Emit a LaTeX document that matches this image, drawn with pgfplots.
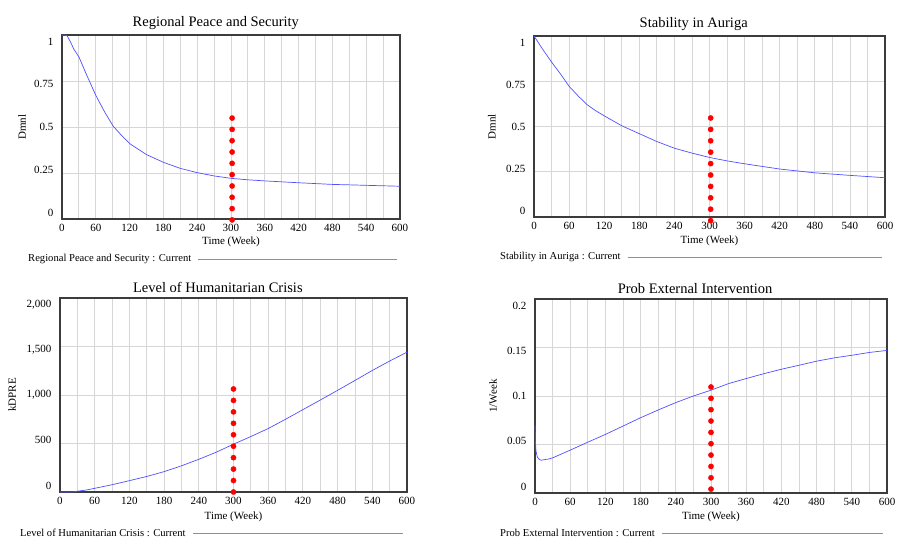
\documentclass[border=0pt]{standalone}
\usepackage{fontspec}
\setmainfont{Liberation Serif}
\usepackage{pgfplots}
\pgfplotsset{compat=1.18}

\definecolor{vline}{RGB}{80,80,255}
\definecolor{vleg}{RGB}{130,130,255}
\definecolor{vgrid}{RGB}{214,214,214}
\definecolor{vframe}{RGB}{60,60,60}

\newcommand{\legfont}{\fontsize{10.6}{12}\selectfont}

\tikzset{
  legtext/.style={anchor=west, inner sep=0pt, font=\legfont},
  legline/.style={vleg, line width=0.8pt},
}

\pgfplotsset{
  vensim/.style={
    scale only axis,
    xmin=0, xmax=600,
    xtick={0,60,...,600},
    minor x tick num=1,
    grid=both,
    major grid style={vgrid, line width=0.8pt},
    minor grid style={vgrid, line width=0.8pt},
    major tick length=0pt, minor tick length=0pt,
    axis line style={vframe, line width=1.3pt},
    tick label style={font=\fontsize{11}{13}\selectfont},
    xticklabel style={yshift=-2pt},
    yticklabel style={xshift=-5pt, yshift={(2-\ticknum)*3.3pt}},
    /pgf/number format/assume math mode=true,
    /pgf/number format/fixed,
    /pgf/number format/precision=2,
    /pgf/number format/1000 sep={,},
    scaled ticks=false,
    title style={font=\fontsize{14.5}{17}\selectfont, at={(0.455,1)}, anchor=south, yshift=-4pt},
    xlabel={Time (Week)},
    label style={font=\fontsize{11}{13}\selectfont},
    ylabel style={rotate=0, anchor=center},
    clip=false,
  },
  curve/.style={vline, line width=0.7pt},
  dots/.style={only marks, mark=*, mark size=2.6pt, red},
}

\begin{document}
\begin{tikzpicture}
\useasboundingbox (0,0) rectangle (897pt,541pt);

% top left
\begin{axis}[vensim, at={(62pt,322pt)}, anchor=south west,
  width=338pt, height=184pt,
  ymin=0, ymax=1, ytick={0,0.25,0.5,0.75,1},
  title={Regional Peace and Security},
  ylabel={Dmnl},
  xlabel style={at={(axis description cs:0.5,-0.125)}, anchor=center},
  ylabel style={at={(axis description cs:-0.118,0.5)}}]
\addplot[curve] coordinates {
  (0,1.0) (5,1.0) (9,0.996) (15,0.963) (21,0.923) (30,0.881) (44,0.781)
  (60,0.672) (76,0.58) (91,0.504) (106,0.453) (120,0.41) (150,0.35)
  (180,0.308) (210,0.275) (240,0.252) (270,0.234) (300,0.221) (330,0.213)
  (360,0.207) (420,0.197) (480,0.188) (540,0.183) (600,0.178)
};
\addplot[dots] coordinates {
  (302,-0.005) (302,0.0565) (302,0.118) (302,0.1795) (302,0.241)
  (302,0.3025) (302,0.364) (302,0.4255) (302,0.487) (302,0.5485)
};
\node[legtext] (lg) at (axis description cs:-0.1006,-0.2174) {Regional Peace and Security : Current};
\draw[legline] ([xshift=7pt]lg.east) -- (axis description cs:0.991,-0.2174);
\end{axis}

% top right
\begin{axis}[vensim, at={(534pt,324pt)}, anchor=south west,
  width=351pt, height=181pt,
  ymin=0, ymax=1, ytick={0,0.25,0.5,0.75,1},
  title={Stability in Auriga},
  ylabel={Dmnl},
  xlabel style={at={(axis description cs:0.5,-0.133)}, anchor=center},
  ylabel style={at={(axis description cs:-0.12,0.5)}}]
\addplot[curve] coordinates {
  (0,1.0) (15,0.926) (30,0.856) (46,0.787) (60,0.722) (76,0.667) (91,0.62)
  (105,0.588) (120,0.559) (150,0.504) (181,0.459) (210,0.417) (240,0.38)
  (270,0.353) (300,0.329) (330,0.31) (360,0.294) (420,0.265) (480,0.244)
  (540,0.23) (600,0.217)
};
\addplot[dots] coordinates {
  (302,-0.02) (302,0.043) (302,0.106) (302,0.169) (302,0.232)
  (302,0.295) (302,0.358) (302,0.421) (302,0.484) (302,0.547)
};
\node[legtext] (lg) at (axis description cs:-0.0969,-0.221) {Stability in Auriga : Current};
\draw[legline] ([xshift=7pt]lg.east) -- (axis description cs:0.991,-0.221);
\end{axis}

% bottom left
\begin{axis}[vensim, at={(60pt,49pt)}, anchor=south west,
  width=347pt, height=194pt,
  ymin=0, ymax=2000, ytick={0,500,1000,1500,2000},
  title={Level of Humanitarian Crisis},
  ylabel={kDPRE},
  xlabel style={at={(axis description cs:0.5,-0.129)}, anchor=center},
  ylabel style={at={(axis description cs:-0.138,0.5)}}]
\addplot[curve] coordinates {
  (0,0) (20,0) (30,8) (45,20) (60,38) (90,75) (120,117) (150,160) (180,210)
  (210,270) (240,337) (270,410) (300,493) (330,572) (360,654) (390,750)
  (420,849) (450,948) (480,1048) (510,1150) (540,1253) (570,1350) (600,1442)
};
\addplot[dots] coordinates {
  (300,0) (300,118) (300,236) (300,354) (300,472)
  (300,590) (300,708) (300,826) (300,944) (300,1062)
};
\node[legtext] (lg) at (axis description cs:-0.1153,-0.211) {Level of Humanitarian Crisis : Current};
\draw[legline] ([xshift=7pt]lg.east) -- (axis description cs:0.988,-0.211);
\end{axis}

% bottom right
\begin{axis}[vensim, at={(535pt,48pt)}, anchor=south west,
  width=352pt, height=194pt,
  ymin=0, ymax=0.2, ytick={0,0.05,0.1,0.15,0.2},
  title={Prob External Intervention},
  ylabel={1/Week},
  xlabel style={at={(axis description cs:0.5,-0.124)}, anchor=center},
  ylabel style={at={(axis description cs:-0.119,0.5)}}]
\addplot[curve] coordinates {
  (0,0.0697) (0.5,0.055) (1.7,0.043) (4,0.037) (7.4,0.0345) (11,0.0338)
  (17,0.0345) (23,0.035) (30,0.0362) (60,0.0442) (90,0.0524) (120,0.0604)
  (150,0.069) (180,0.0776) (210,0.0856) (240,0.0932) (270,0.1) (300,0.106)
  (330,0.1128) (360,0.118) (390,0.123) (420,0.1276) (450,0.1317) (480,0.1359)
  (510,0.1393) (540,0.142) (570,0.1449) (600,0.147)
};
\addplot[dots] coordinates {
  (300,0.004) (300,0.0157) (300,0.0274) (300,0.0391) (300,0.0508)
  (300,0.0625) (300,0.0742) (300,0.0859) (300,0.0976) (300,0.1093)
};
\node[legtext] (lg) at (axis description cs:-0.0994,-0.206) {Prob External Intervention : Current};
\draw[legline] ([xshift=7pt]lg.east) -- (axis description cs:0.989,-0.206);
\end{axis}
\end{tikzpicture}
\end{document}
